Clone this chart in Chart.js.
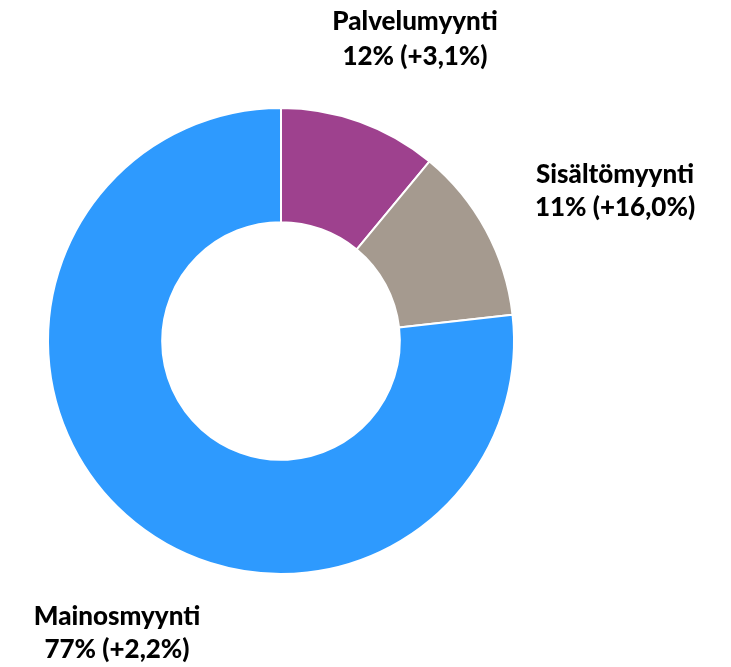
<!DOCTYPE html>
<html>
<head>
<meta charset="utf-8">
<script src="https://cdn.jsdelivr.net/npm/chart.js@4"></script>
<style>
    html, body { margin: 0; padding: 0; background: #ffffff; }
    #wrap { width: 731px; height: 667px; }
</style>
</head>
<body>
<div id="wrap"><canvas id="salesChart"></canvas></div>
<script>
// Myynnin jakauma
const categories = ['Palvelumyynti', 'Sisältömyynti', 'Mainosmyynti'];
const values = [11.0, 12.2, 76.8];
const shareTexts = ['12%', '11%', '77%'];
const changeTexts = ['+3,1%', '+16,0%', '+2,2%'];

const sliceColors = ['#9E418E', '#A59A8F', '#2E9AFE'];

// Tekstien paikat (keskikohta x, peruslinjat y)
const labelSpots = [
    { x: 415, y1: 30, y2: 65 },
    { x: 615, y1: 183, y2: 216 },
    { x: 117, y1: 625, y2: 658 }
];

const outsideLabels = {
    id: 'outsideLabels',
    afterDraw(chart) {
        const ctx = chart.ctx;
        ctx.save();
        ctx.fillStyle = '#000000';
        ctx.textAlign = 'center';
        ctx.textBaseline = 'alphabetic';
        ctx.font = "900 26px Lato, 'Open Sans', sans-serif";
        categories.forEach(function(name, i) {
            const spot = labelSpots[i];
            ctx.fillText(name, spot.x, spot.y1);
            ctx.fillText(shareTexts[i] + ' (' + changeTexts[i] + ')', spot.x, spot.y2);
        });
        ctx.restore();
    }
};

new Chart(document.getElementById('salesChart'), {
    type: 'doughnut',
    data: {
        labels: categories,
        datasets: [{
            data: values,
            backgroundColor: sliceColors,
            borderColor: '#ffffff',
            borderWidth: 2
        }]
    },
    options: {
        responsive: true,
        maintainAspectRatio: false,
        animation: false,
        cutout: '51%',
        layout: {
            padding: { left: 47, right: 216, top: 107, bottom: 92 }
        },
        plugins: {
            legend: { display: false },
            tooltip: { enabled: false }
        }
    },
    plugins: [outsideLabels]
});
</script>
</body>
</html>
